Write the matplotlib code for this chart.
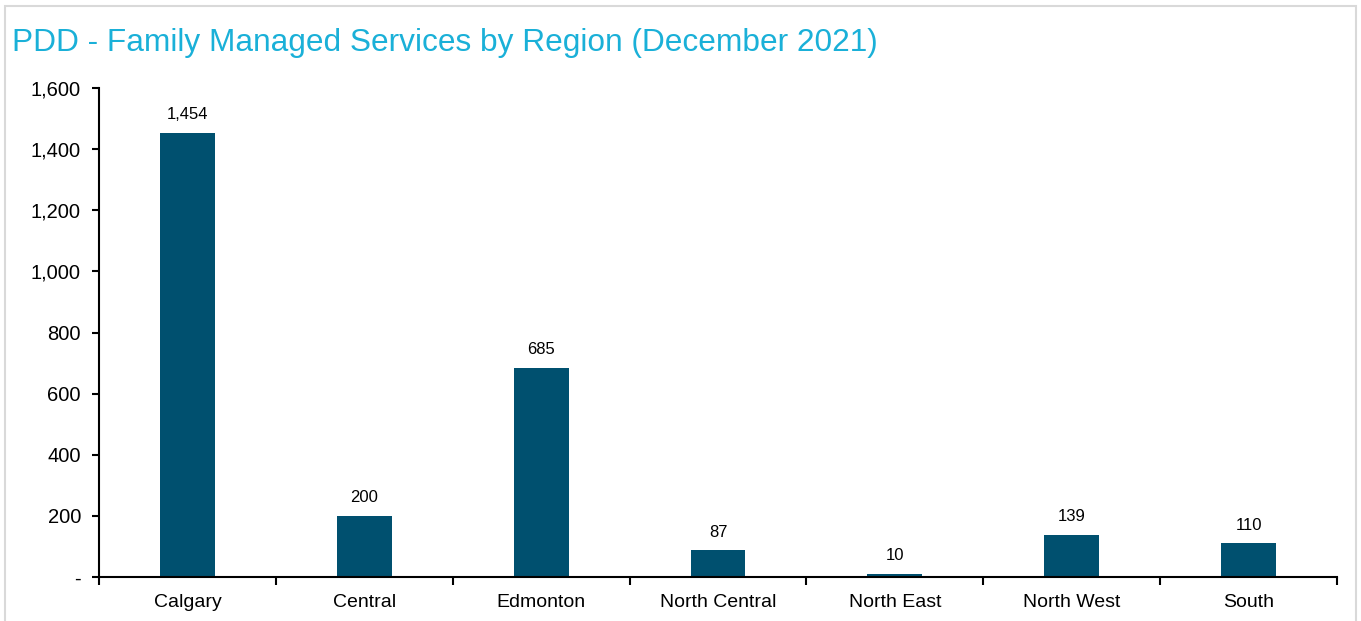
import numpy as np
import matplotlib.pyplot as plt
from matplotlib.ticker import FuncFormatter, FixedLocator
from matplotlib.patches import Rectangle

regions = ["Calgary", "Central", "Edmonton", "North Central", "North East", "North West", "South"]
services = [1454, 200, 685, 87, 10, 139, 110]
y_ticks = [0, 200, 400, 600, 800, 1000, 1200, 1400, 1600]
title = "PDD - Family Managed Services by Region (December 2021)"

plt.rcParams['font.family'] = ['Liberation Sans', 'DejaVu Sans']

fig = plt.figure(figsize=(13.61, 6.21), dpi=100)
# light grey frame around the chart area
fig.patches.append(Rectangle((5 / 1361, -0.01), 1351 / 1361, 1 - 6 / 621 + 0.01,
                             transform=fig.transFigure, fill=False,
                             edgecolor='#D9D9D9', linewidth=1.5))
ax = fig.add_axes([99 / 1361, 1 - 577 / 621, (1337 - 99) / 1361, (577 - 88) / 621])

x = np.arange(len(regions))
bars = ax.bar(x, services, width=0.31, color='#00506F')
for xi, v in zip(x, services):
    ax.text(xi, v + 35, f"{v:,}", ha='center', va='bottom', fontsize=12, color='#000000')

ax.set_xlim(-0.5, len(regions) - 0.5)
ax.set_ylim(0, 1600)
ax.set_yticks(y_ticks)
ax.yaxis.set_major_formatter(FuncFormatter(lambda v, p: "-" if v == 0 else f"{int(v):,}"))
ax.set_xticks(x)
ax.set_xticklabels(regions)
ax.xaxis.set_minor_locator(FixedLocator(np.arange(-0.5, len(regions), 1)))
ax.tick_params(axis='x', which='major', length=0, labelsize=14, pad=12)
ax.tick_params(axis='x', which='minor', length=6, width=1.5, direction='out')
ax.tick_params(axis='y', length=5, width=1.5, labelsize=14.5, pad=8)

for s in ['top', 'right']:
    ax.spines[s].set_visible(False)
for s in ['left', 'bottom']:
    ax.spines[s].set_linewidth(1.5)

fig.text(12 / 1361, 1 - 43 / 621, title, fontsize=22.8, color='#1AB0D8', va='center', ha='left')

fig.savefig("out.png", dpi=100)
